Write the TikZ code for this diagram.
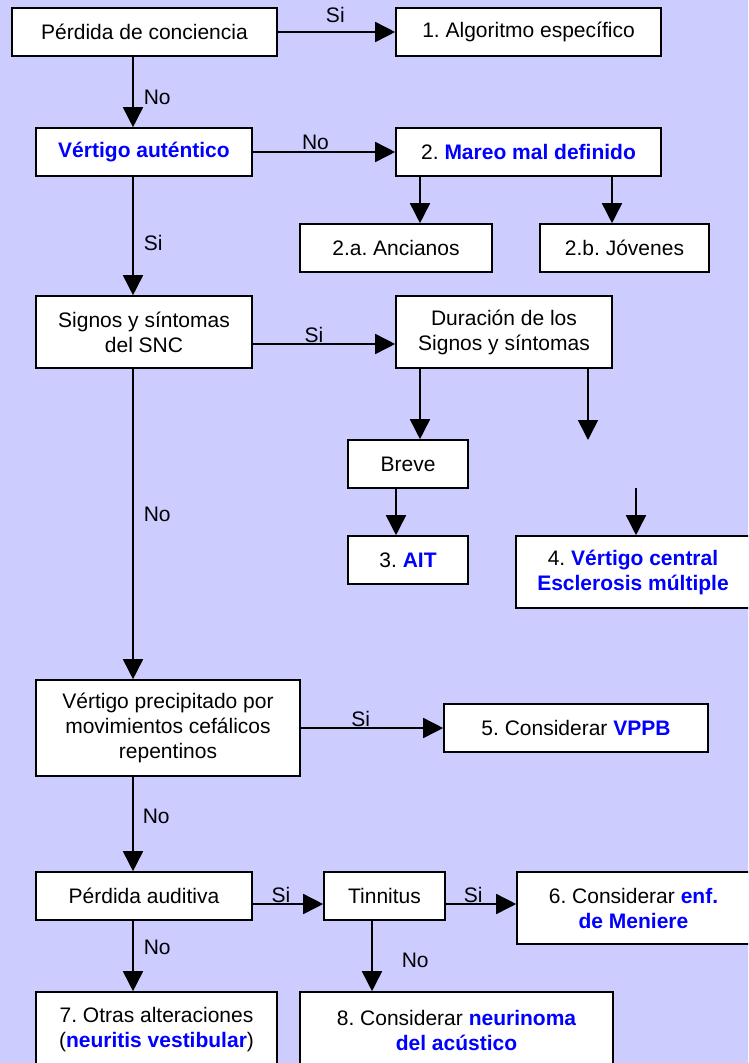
\documentclass[tikz,border=0pt]{standalone}
\usepackage{fontspec}
\setmainfont{Liberation Sans}
\usetikzlibrary{arrows.meta}
\definecolor{fondo}{RGB}{204,204,255}
\definecolor{azul}{RGB}{0,0,255}
\newcommand{\resalta}[1]{{\color{azul}\bfseries #1}}
\frenchspacing

\begin{document}
\begin{tikzpicture}
		[x=1pt, y=-1pt,
		caja/.style={draw, fill=white, line width=1.6pt, align=center,
			inner sep=0pt, font=\fontsize{21}{25}\selectfont},
		flecha/.style={line width=1.6pt,
			-{Triangle[length=20pt,width=20pt]}},
		etiq/.style={inner sep=1pt, font=\fontsize{21}{25}\selectfont},
		]
		\clip (0,0) rectangle (748,1063);
		\fill[fondo] (0,0) rectangle (748,1063);
		
		\node[caja, minimum width=265, minimum height=48] (perdida) at (144.5,32) {Pérdida de conciencia};
		\node[caja, minimum width=265, minimum height=48] (algoritmo) at (528.5,32) {1. Algoritmo específico};
		\node[caja, minimum width=216, minimum height=48] (vertigo) at (144,152) {\resalta{Vértigo auténtico}};
		\node[caja, minimum width=265, minimum height=48] (mareo) at (528.5,152) {2. \resalta{Mareo mal definido}};
		\node[caja, minimum width=192, minimum height=48] (ancianos) at (396,248) {2.a. Ancianos};
		\node[caja, minimum width=169, minimum height=48] (jovenes) at (624.5,248) {2.b. Jóvenes};
		\node[caja, minimum width=216, minimum height=72] (snc) at (144,332) {Signos y síntomas\\del SNC};
		\node[caja, minimum width=216, minimum height=72] (duracion) at (504,332) {Duración de los\\Signos y síntomas};
		\node[caja, minimum width=120, minimum height=48] (breve) at (408,464) {Breve};
		\node[caja, minimum width=120, minimum height=48] (ait) at (408,560) {3. \resalta{AIT}};
		\node[caja, minimum width=234, minimum height=72] (central) at (633,572) {4. \resalta{Vértigo central}\\\resalta{Esclerosis múltiple}};
		\node[caja, minimum width=264, minimum height=96] (precipitado) at (168,728) {Vértigo precipitado por\\movimientos cefálicos\\repentinos};
		\node[caja, minimum width=264, minimum height=48] (vppb) at (576,728) {5. Considerar \resalta{VPPB}};
		\node[caja, minimum width=216, minimum height=48] (auditiva) at (144,896) {Pérdida auditiva};
		\node[caja, minimum width=121, minimum height=48] (tinnitus) at (384.5,896) {Tinnitus};
		\node[caja, minimum width=233, minimum height=72] (meniere) at (633.5,908) {6. Considerar \resalta{enf.}\\\resalta{de Meniere}};
		\node[caja, minimum width=241, minimum height=76] (otras) at (156.5,1030) {7. Otras alteraciones\\(\resalta{neuritis vestibular})};
		\node[caja, minimum width=313, minimum height=76] (neurinoma) at (456.5,1030) {8. Considerar \resalta{neurinoma}\\\resalta{del acústico}};
		
		\coordinate (eje) at (133,0);
		\coordinate (ejeb) at (420,0);
		\coordinate (ejec) at (612,0);
		\coordinate (ejed) at (396,0);
		\coordinate (ejet) at (372,0);
		\coordinate (fila) at (0,344);
		\coordinate (filab) at (0,904);
		\coordinate (libre1) at (588,440);
		\coordinate (libre2) at (636,488);
		
		\draw[flecha] (perdida) -- (algoritmo) node[etiq, above=7pt, pos=0.49] {Si};
		\draw[flecha] (perdida.south -| eje) -- (vertigo.north -| eje) node[etiq, right=9pt, pos=0.57] {No};
		\draw[flecha] (vertigo) -- (mareo) node[etiq, above, pos=0.44] {No};
		\draw[flecha] (mareo.south -| ejeb) -- (ancianos.north -| ejeb);
		\draw[flecha] (mareo.south -| ejec) -- (jovenes.north -| ejec);
		\draw[flecha] (vertigo.south -| eje) -- (snc.north -| eje) node[etiq, right=9pt, pos=0.56] {Si};
		\draw[flecha] (snc.east |- fila) -- (duracion.west |- fila) node[etiq, above, pos=0.43] {Si};
		\draw[flecha] (duracion.south -| ejeb) -- (breve.north -| ejeb);
		\draw[flecha] (duracion.south -| libre1) -- (libre1);
		\draw[flecha] (breve.south -| ejed) -- (ait.north -| ejed);
		\draw[flecha] (libre2) -- (central.north -| libre2);
		\draw[flecha] (snc.south -| eje) -- (precipitado.north -| eje) node[etiq, right=9pt, pos=0.47] {No};
		\draw[flecha] (precipitado) -- (vppb) node[etiq, above, pos=0.42] {Si};
		\draw[flecha] (precipitado.south -| eje) -- (auditiva.north -| eje) node[etiq, right=8pt, pos=0.42] {No};
		\draw[flecha] (auditiva.east |- filab) -- (tinnitus.west |- filab) node[etiq, above, pos=0.4] {Si};
		\draw[flecha] (tinnitus.east |- filab) -- (meniere.west |- filab) node[etiq, above, pos=0.39] {Si};
		\draw[flecha] (auditiva.south -| eje) -- (otras.north -| eje) node[etiq, right=9pt, pos=0.375] {No};
		\draw[flecha] (tinnitus.south -| ejet) -- (neurinoma.north -| ejet) node[etiq, right=28pt, pos=0.56] {No};
	\end{tikzpicture}
\end{document}
